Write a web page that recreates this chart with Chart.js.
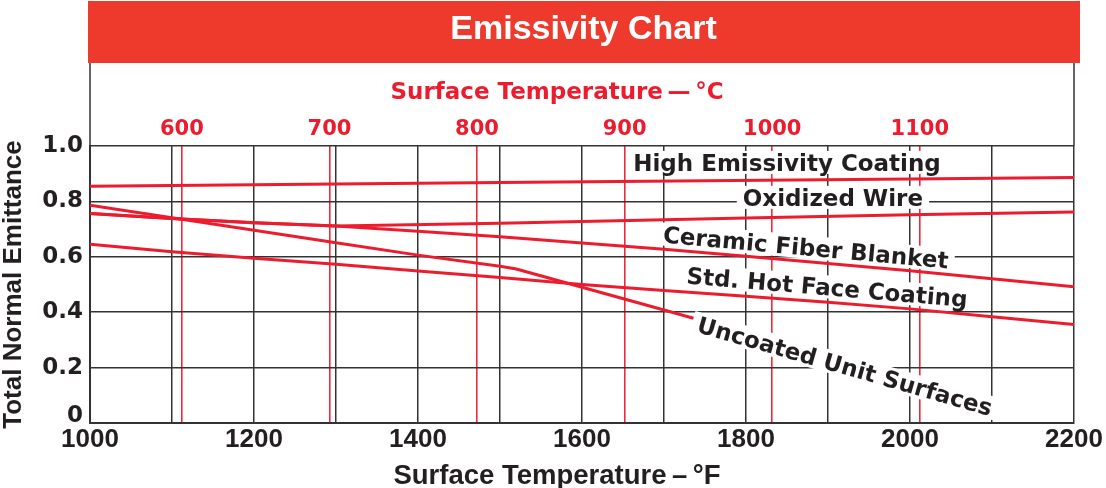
<!DOCTYPE html>
<html>
<head>
<meta charset="utf-8">
<script src="https://cdn.jsdelivr.net/npm/chart.js@4.4.1/dist/chart.umd.min.js"></script>
<style>
html,body{margin:0;padding:0;background:#fff;}
#wrap{width:1106px;height:488px;position:relative;}
</style>
</head>
<body>
<div id="wrap"><canvas id="c"></canvas></div>
<script>
// ---- text ----
const chartTitle = 'Emissivity Chart';
const xTitle = 'Surface Temperature\u2009\u2013\u2009\u00B0F';
const x2Title = 'Surface Temperature\u2009\u2014\u2009\u00B0C';
const yTitle = 'Total Normal Emittance';

// ---- ticks ----
const fahrenheitTicks = [1000, 1100, 1200, 1300, 1400, 1500, 1600, 1700, 1800, 1900, 2000, 2100, 2200];
const celsiusTicks = [600, 700, 800, 900, 1000, 1100];
const emittanceTicks = [0, 0.2, 0.4, 0.6, 0.8, 1.0];

// ---- series (temperature in degF, total normal emittance) ----
const highF = [1000, 1500, 2000, 2200];
const highEmissivity = [0.855, 0.868, 0.881, 0.886];

const oxidizedF = [1000, 1100, 1200, 1300, 1500, 1800, 2000, 2200];
const oxidizedWire = [0.756, 0.738, 0.723, 0.711, 0.721, 0.740, 0.752, 0.762];

const ceramicF = [1000, 1100, 1200, 1300, 1400, 1500, 1600, 1700, 1800, 1900, 2000, 2100, 2200];
const ceramicFiber = [0.756, 0.738, 0.723, 0.711, 0.692, 0.672, 0.650, 0.627, 0.602, 0.576, 0.550, 0.521, 0.492];

const stdF = [1000, 1100, 1200, 1300, 1400, 1500, 1600, 1700, 1800, 1900, 2000, 2100, 2200];
const stdHotFace = [0.645, 0.618, 0.595, 0.573, 0.549, 0.525, 0.500, 0.478, 0.458, 0.436, 0.412, 0.384, 0.356];

const uncoatedF = [1000, 1100, 1200, 1300, 1400, 1500, 1520, 1600, 1700, 1800, 1900, 2000, 2080];
const uncoatedUnit = [0.786, 0.741, 0.696, 0.651, 0.606, 0.566, 0.556, 0.490, 0.408, 0.325, 0.240, 0.155, 0.085];

const seriesNames = ['High Emissivity Coating', 'Oxidized Wire', 'Ceramic Fiber Blanket', 'Std. Hot Face Coating', 'Uncoated Unit Surfaces'];

// label anchors (data units) and rotation, for the in-plot series names
const labelF = [1850, 1906, 1872, 1898, 1918];
const labelE = [0.910, 0.784, 0.605, 0.461, 0.177];
const labelAngle = [0, 0, 5.2, 4.8, 16];

const RED = '#ec1c2e';
const INK = '#231f20';
const GRID = '#333333';

function pts(xs, ys) { return xs.map((x, i) => ({ x: x, y: ys[i] })); }
const f2c = f => (f - 32) / 1.8;

const headerPlugin = {
  id: 'header',
  afterDraw(chart) {
    const ctx = chart.ctx;
    const a = chart.chartArea;
    ctx.save();
    // red title bar
    ctx.fillStyle = '#ee3a2d';
    ctx.fillRect(a.left - 2, 1, a.right - a.left + 8, 62);
    ctx.fillStyle = '#ffffff';
    ctx.font = 'bold 34px "Liberation Sans", Arial, sans-serif';
    ctx.textAlign = 'center';
    ctx.textBaseline = 'alphabetic';
    ctx.fillText(chartTitle, 583.5, 38.5);
    // frame between bar and plot
    ctx.strokeStyle = GRID;
    ctx.lineWidth = 1.5;
    ctx.beginPath();
    ctx.moveTo(a.left, 63); ctx.lineTo(a.left, a.top);
    ctx.moveTo(a.right, 63); ctx.lineTo(a.right, a.top);
    ctx.stroke();
    // top axis title
    ctx.fillStyle = RED;
    ctx.font = 'bold 23px "DejaVu Sans", sans-serif';
    ctx.fillText(x2Title, 557, 98.5);
    // bottom axis title
    ctx.fillStyle = INK;
    ctx.font = 'bold 27.5px "Liberation Sans", Arial, sans-serif';
    ctx.fillText(xTitle, 557, 484);
    ctx.restore();
  }
};

const labelPlugin = {
  id: 'seriesLabels',
  afterDatasetsDraw(chart) {
    const ctx = chart.ctx;
    const xs = chart.scales.x, ys = chart.scales.y;
    ctx.save();
    ctx.font = 'bold 23px "DejaVu Sans", sans-serif';
    ctx.textAlign = 'center';
    ctx.textBaseline = 'alphabetic';
    seriesNames.forEach((name, i) => {
      const px = xs.getPixelForValue(labelF[i]);
      const py = ys.getPixelForValue(labelE[i]);
      const w = ctx.measureText(name).width;
      ctx.save();
      ctx.translate(px, py);
      ctx.rotate(labelAngle[i] * Math.PI / 180);
      ctx.fillStyle = '#ffffff';
      ctx.fillRect(-w / 2 - 6, -20, w + 12, 23);
      ctx.fillStyle = INK;
      ctx.fillText(name, 0, 0);
      ctx.restore();
    });
    ctx.restore();
  }
};

const lineStyle = {
  borderColor: RED,
  borderWidth: 3,
  pointRadius: 0,
  tension: 0,
  fill: false
};

new Chart(document.getElementById('c'), {
  type: 'line',
  data: {
    datasets: [
      Object.assign({ label: seriesNames[0], data: pts(highF, highEmissivity) }, lineStyle),
      Object.assign({ label: seriesNames[1], data: pts(oxidizedF, oxidizedWire) }, lineStyle),
      Object.assign({ label: seriesNames[2], data: pts(ceramicF, ceramicFiber) }, lineStyle),
      Object.assign({ label: seriesNames[3], data: pts(stdF, stdHotFace) }, lineStyle),
      Object.assign({ label: seriesNames[4], data: pts(uncoatedF, uncoatedUnit) }, lineStyle)
    ]
  },
  options: {
    responsive: true,
    maintainAspectRatio: false,
    animation: false,
    layout: { padding: { top: 100, right: 32, bottom: 0, left: 0 } },
    plugins: {
      legend: { display: false },
      tooltip: { enabled: false },
      title: { display: false }
    },
    scales: {
      x: {
        type: 'linear',
        position: 'bottom',
        min: 1000, max: 2200,
        afterBuildTicks: s => { s.ticks = fahrenheitTicks.map(v => ({ value: v })); },
        afterFit: s => { s.height = 65; },
        ticks: {
          autoSkip: false, maxRotation: 0, minRotation: 0, padding: 1,
          color: INK,
          font: { family: 'Liberation Sans', weight: 'bold', size: 26 },
          callback: v => (v % 200 === 0 ? String(v) : '')
        },
        grid: { color: GRID, lineWidth: 1.5, drawTicks: false },
        border: { display: true, color: GRID, width: 2 }
      },
      x2: {
        type: 'linear',
        position: 'top',
        min: f2c(1000), max: f2c(2200),
        afterBuildTicks: s => { s.ticks = celsiusTicks.map(v => ({ value: v })); },
        afterFit: s => { s.height = 46; },
        ticks: {
          autoSkip: false, maxRotation: 0, minRotation: 0, padding: 4,
          color: RED,
          font: { family: 'DejaVu Sans', weight: 'bold', size: 21 },
          callback: v => String(v)
        },
        grid: { color: '#ee2a3a', lineWidth: 1.6, drawTicks: false },
        border: { display: false }
      },
      y: {
        type: 'linear',
        position: 'left',
        min: 0, max: 1,
        afterBuildTicks: s => { s.ticks = emittanceTicks.map(v => ({ value: v })); },
        afterFit: s => { s.width = 90; },
        ticks: {
          padding: 7,
          color: INK,
          font: { family: 'DejaVu Sans', weight: 'bold', size: 23, lineHeight: 0.6 },
          callback: v => (v === 0 ? ['0', ''] : v.toFixed(1))
        },
        grid: { color: GRID, lineWidth: 1.5, drawTicks: false },
        border: { display: true, color: GRID, width: 2 },
        title: {
          display: true, text: yTitle, color: INK, padding: 0,
          font: { family: 'Liberation Sans', weight: 'bold', size: 26, lineHeight: 1.1 }
        }
      }
    }
  },
  plugins: [headerPlugin, labelPlugin]
});
</script>
</body>
</html>
